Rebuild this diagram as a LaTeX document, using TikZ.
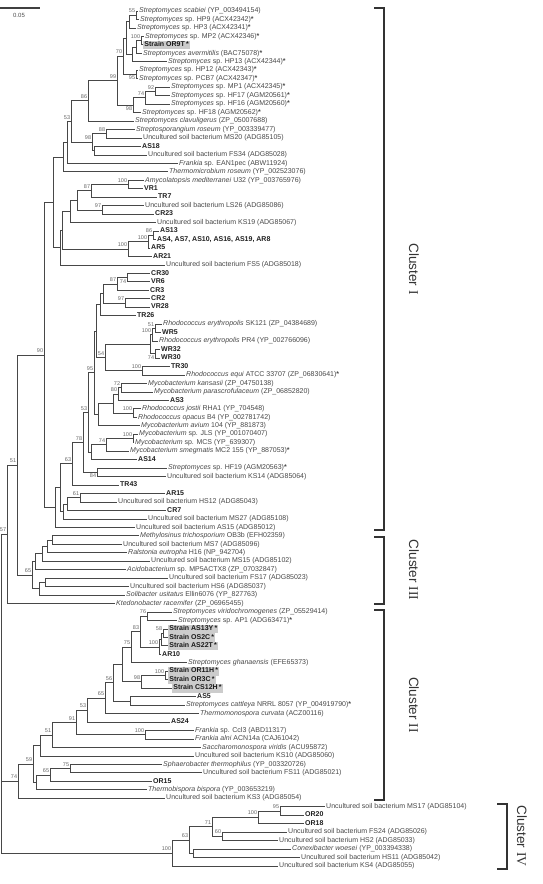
\documentclass[tikz,border=0pt]{standalone}
\usepackage{fontspec}
\setmainfont{Liberation Sans}
\newfontfamily\numfont{Liberation Serif}
\usetikzlibrary{calc}
\tikzset{
  br/.style={draw=black!72, line width=0.8pt},
  lf/.style={anchor=west, inner sep=1pt, text height=5pt, text depth=1.6pt, font=\fontsize{7}{8}\selectfont, text=black!72},
  bx/.style={fill=black!20, inner xsep=1.2pt, font=\fontsize{7}{8}\selectfont\bfseries, text=black!90},
  bd/.style={font=\fontsize{7}{8}\selectfont\bfseries, text=black!88},
  bsn/.style={inner sep=0pt, font=\fontsize{5.5}{6}\selectfont, text=black!60},
  ab/.style={anchor=base east, xshift=-0.7pt, yshift=2.4pt},
  be/.style={anchor=north east, xshift=-0.7pt, yshift=-1.4pt},
  brk/.style={draw=black!80, line width=1.6pt},
  cl/.style={rotate=-90, font=\fontsize{13.5}{15}\selectfont, text=black!80, inner sep=0pt}
}
\newcommand\strk{{\bfseries *}}
\newcommand\leaf[4][]{\node[lf,#1] (L#2) at (#3,{11+(#2-1)*8.465}) {#4};\coordinate (T#2) at (L#2.west);}
\newcommand\jn[4]{\path let \p1=($(#3)!0.5!(#4)$) in coordinate (#1) at (#2pt,\y1);
  \draw[br] (#1) |- (#3); \draw[br] (#1) |- (#4);}
\newcommand\bs[3][ab]{\node[bsn,#1] (#2-b) at (#2) {#3};}
\newcommand\clname[1]{Cluster\hspace{4pt}{\numfont #1}}
\begin{document}
\begin{tikzpicture}[x=1pt,y=-1pt]
\useasboundingbox (0,0) rectangle (542,884);
% scale bar
\coordinate (sb1) at (0,8); \coordinate (sb2) at (40,8);
\draw[line width=1.3pt, black!75] (sb1) -- (sb2);
\node[font=\fontsize{6}{7}\selectfont, text=black!70] (sbl) at (19,15) {0.05};
% leaves
\leaf{1}{138}{\textit{Streptomyces scabiei} (YP\_003494154)}
\leaf{2}{139}{\textit{Streptomyces} sp. HP9 (ACX42342)\strk}
\leaf{3}{136}{\textit{Streptomyces} sp. HP3 (ACX42341)\strk}
\leaf{4}{144}{\textit{Streptomyces} sp. MP2 (ACX42346)\strk}
\leaf[bx]{5}{143}{Strain OR9T\,*}
\leaf{6}{142}{\textit{Streptomyces avermitilis} (BAC75078)\strk}
\leaf{7}{167}{\textit{Streptomyces} sp. HP13 (ACX42344)\strk}
\leaf{8}{138}{\textit{Streptomyces} sp. HP12 (ACX42343)\strk}
\leaf{9}{138}{\textit{Streptomyces} sp. PCB7 (ACX42347)\strk}
\leaf{10}{170}{\textit{Streptomyces} sp. MP1 (ACX42345)\strk}
\leaf{11}{170}{\textit{Streptomyces} sp. HF17 (AGM20561)\strk}
\leaf{12}{170}{\textit{Streptomyces} sp. HF16 (AGM20560)\strk}
\leaf{13}{141}{\textit{Streptomyces} sp. HF18 (AGM20562)\strk}
\leaf{14}{134}{\textit{Streptomyces clavuligerus} (ZP\_05007688)}
\leaf{15}{135}{\textit{Streptosporangium roseum} (YP\_003339477)}
\leaf{16}{142}{Uncultured soil bacterium MS20 (ADG85105)}
\leaf[bd]{17}{141}{AS18}
\leaf{18}{147}{Uncultured soil bacterium FS34 (ADG85028)}
\leaf{19}{178}{\textit{Frankia} sp. EAN1pec (ABW11924)}
\leaf{20}{168}{\textit{Thermomicrobium roseum} (YP\_002523076)}
\leaf{21}{144}{\textit{Amycolatopsis mediterranei} U32 (YP\_003765976)}
\leaf[bd]{22}{143}{VR1}
\leaf[bd]{23}{157}{TR7}
\leaf{24}{144}{Uncultured soil bacterium LS26 (ADG85086)}
\leaf[bd]{25}{154}{CR23}
\leaf{26}{156}{Uncultured soil bacterium KS19 (ADG85067)}
\leaf[bd]{27}{159}{AS13}
\leaf[bd]{28}{156}{AS4, AS7, AS10, AS16, AS19, AR8}
\leaf[bd]{29}{150}{AR5}
\leaf[bd]{30}{152}{AR21}
\leaf{31}{165}{Uncultured soil bacterium FS5 (ADG85018)}
\leaf[bd]{32}{150}{CR30}
\leaf[bd]{33}{150}{VR6}
\leaf[bd]{34}{149}{CR3}
\leaf[bd]{35}{150}{CR2}
\leaf[bd]{36}{150}{VR28}
\leaf[bd]{37}{136}{TR26}
\leaf{38}{162}{\textit{Rhodococcus erythropolis} SK121 (ZP\_04384689)}
\leaf[bd]{39}{161}{WR5}
\leaf{40}{158}{\textit{Rhodococcus erythropolis} PR4 (YP\_002766096)}
\leaf[bd]{41}{160}{WR32}
\leaf[bd]{42}{160}{WR30}
\leaf[bd]{43}{170}{TR30}
\leaf{44}{185}{\textit{Rhodococcus equi} ATCC 33707 (ZP\_06830641)\strk}
\leaf{45}{147}{\textit{Mycobacterium kansasii} (ZP\_04750138)}
\leaf{46}{153}{\textit{Mycobacterium parascrofulaceum} (ZP\_06852820)}
\leaf[bd]{47}{169}{AS3}
\leaf{48}{141}{\textit{Rhodococcus jostii} RHA1 (YP\_704548)}
\leaf{49}{137}{\textit{Rhodococcus opacus} B4 (YP\_002781742)}
\leaf{50}{140}{\textit{Mycobacterium avium} 104 (YP\_881873)}
\leaf{51}{138}{\textit{Mycobacterium} sp. JLS (YP\_001070407)}
\leaf{52}{134}{\textit{Mycobacterium} sp. MCS (YP\_639307)}
\leaf{53}{129}{\textit{Mycobacterium smegmatis} MC2 155 (YP\_887053)\strk}
\leaf[bd]{54}{137}{AS14}
\leaf{55}{167}{\textit{Streptomyces} sp. HF19 (AGM20563)\strk}
\leaf{56}{166}{Uncultured soil bacterium KS14 (ADG85064)}
\leaf[bd]{57}{119}{TR43}
\leaf[bd]{58}{165}{AR15}
\leaf{59}{117}{Uncultured soil bacterium HS12 (ADG85043)}
\leaf[bd]{60}{166}{CR7}
\leaf{61}{147}{Uncultured soil bacterium MS27 (ADG85108)}
\leaf{62}{135}{Uncultured soil bacterium AS15 (ADG85012)}
\leaf{63}{139}{\textit{Methylosinus trichosporium} OB3b (EFH02359)}
\leaf{64}{122}{Uncultured soil bacterium MS7 (ADG85096)}
\leaf{65}{127}{\textit{Ralstonia eutropha} H16 (NP\_942704)}
\leaf{66}{150}{Uncultured soil bacterium MS15 (ADG85102)}
\leaf{67}{126}{\textit{Acidobacterium} sp. MP5ACTX8 (ZP\_07032847)}
\leaf{68}{168}{Uncultured soil bacterium FS17 (ADG85023)}
\leaf{69}{129}{Uncultured soil bacterium HS6 (ADG85037)}
\leaf{70}{125}{\textit{Solibacter usitatus} Ellin6076 (YP\_827763)}
\leaf{71}{115}{\textit{Ktedonobacter racemifer} (ZP\_06965455)}
\leaf{72}{172}{\textit{Streptomyces viridochromogenes} (ZP\_05529414)}
\leaf{73}{177}{\textit{Streptomyces} sp. AP1 (ADG63471)\strk}
\leaf[bx]{74}{168}{Strain AS13Y\,*}
\leaf[bx]{75}{168}{Strain OS2C\,*}
\leaf[bx]{76}{168}{Strain AS22T\,*}
\leaf[bd]{77}{161}{AR10}
\leaf{78}{187}{\textit{Streptomyces ghanaensis} (EFE65373)}
\leaf[bx]{79}{168}{Strain OR11H\,*}
\leaf[bx]{80}{168}{Strain OR3C\,*}
\leaf[bx]{81}{172}{Strain CS12H\,*}
\leaf[bd]{82}{196}{AS5}
\leaf{83}{185}{\textit{Streptomyces cattleya} NRRL 8057 (YP\_004919790)\strk}
\leaf{84}{199}{\textit{Thermomonospora curvata} (ACZ00116)}
\leaf[bd]{85}{170}{AS24}
\leaf{86}{194}{\textit{Frankia} sp. Ccl3 (ABD11317)}
\leaf{87}{194}{\textit{Frankia alni} ACN14a (CAJ61042)}
\leaf{88}{201}{\textit{Saccharomonospora viridis} (ACU95872)}
\leaf{89}{194}{Uncultured soil bacterium KS10 (ADG85060)}
\leaf{90}{162}{\textit{Sphaerobacter thermophilus} (YP\_003320726)}
\leaf{91}{202}{Uncultured soil bacterium FS11 (ADG85021)}
\leaf[bd]{92}{152}{OR15}
\leaf{93}{147}{\textit{Thermobispora bispora} (YP\_003653219)}
\leaf{94}{165}{Uncultured soil bacterium KS3 (ADG85054)}
\leaf{95}{325}{Uncultured soil bacterium MS17 (ADG85104)}
\leaf[bd]{96}{304}{OR20}
\leaf[bd]{97}{304}{OR18}
\leaf{98}{287}{Uncultured soil bacterium FS24 (ADG85026)}
\leaf{99}{278}{Uncultured soil bacterium HS2 (ADG85033)}
\leaf{100}{291}{\textit{Conexibacter woesei} (YP\_003394338)}
\leaf{101}{300}{Uncultured soil bacterium HS11 (ADG85042)}
\leaf{102}{278}{Uncultured soil bacterium KS4 (ADG85055)}
% Cluster I, Streptomyces part
\jn{A}{136}{T1}{T2}
\jn{B}{129}{A}{T3}
\jn{C}{141}{T4}{T5}
\jn{D}{136}{C}{T6}
\jn{E}{132}{D}{T7}
\jn{BE}{126}{B}{E}
\jn{S95}{136}{T8}{T9}
\jn{F}{123}{BE}{S95}
\jn{S92}{155}{T10}{T11}
\jn{S74}{145}{S92}{T12}
\jn{S98}{133}{S74}{T13}
\jn{S99}{117}{F}{S98}
\jn{S86}{88}{S99}{T14}
\jn{S88}{106}{T15}{T16}
\jn{AF}{94}{T17}{T18}
\jn{S98b}{92}{S88}{AF}
\jn{S53}{71}{S86}{S98b}
\jn{Fr}{67}{S53}{T19}
\jn{Th}{63}{Fr}{T20}
\jn{Am}{128}{T21}{T22}
\jn{A87}{91}{Am}{T23}
\jn{A97}{102}{T24}{T25}
\jn{P}{77}{A87}{A97}
\jn{Q}{70}{P}{T26}
\jn{ASn}{153}{T27}{T28}
\jn{B1}{148}{ASn}{T29}
\jn{B2}{128}{B1}{T30}
\jn{V}{62}{Q}{B2}
\jn{X61}{60}{V}{T31}
\jn{X53}{53}{Th}{X61}
% Cluster I, lower part
\jn{na}{127}{T32}{T33}
\jn{nb}{117}{na}{T34}
\jn{nc}{125}{T35}{T36}
\jn{nd}{103}{nb}{nc}
\jn{ne}{100}{nd}{T37}
\jn{r51}{155}{T38}{T39}
\jn{r100}{152}{r51}{T40}
\jn{r74}{155}{T41}{T42}
\jn{rh}{150}{r100}{r74}
\jn{t100}{142}{T43}{T44}
\jn{n54}{105}{rh}{t100}
\jn{nf}{96}{ne}{n54}
\jn{m72}{121}{T45}{T46}
\jn{m80}{118}{m72}{T47}
\jn{j100}{133}{T48}{T49}
\jn{mj}{113}{m80}{j100}
\jn{av}{98}{mj}{T50}
\jn{n95}{94}{nf}{av}
\jn{m100}{133}{T51}{T52}
\jn{m74}{106}{m100}{T53}
\jn{a14}{91}{m74}{T54}
\jn{m53}{88}{n95}{a14}
\jn{n84}{97}{T55}{T56}
\jn{n78}{83}{m53}{n84}
\jn{n63}{72}{n78}{T57}
\jn{n61}{80}{T58}{T59}
\jn{cr7}{67}{n61}{T60}
\jn{ms27}{63}{cr7}{T61}
\jn{np}{60}{n63}{ms27}
\jn{nq}{55}{np}{T62}
\jn{n90}{44}{X53}{nq}
% Cluster III
\jn{cA}{52}{T63}{T64}
\jn{cB}{47}{cA}{T65}
\jn{cC}{42}{cB}{T66}
\jn{cD}{35}{cC}{T67}
\jn{cE}{45}{T68}{T69}
\jn{cF}{39}{cE}{T70}
\jn{c3}{32}{cD}{cF}
\jn{n51}{17}{n90}{c3}
\jn{n57}{7}{n51}{T71}
% Cluster II
\jn{k76}{147}{T72}{T73}
\jn{k58}{163}{T74}{T75}
\jn{ks}{161}{k58}{T76}
\jn{k100}{159}{ks}{T77}
\jn{k83}{140}{k76}{k100}
\jn{k75}{131}{k83}{T78}
\jn{o100}{165}{T79}{T80}
\jn{o98}{141}{o100}{T81}
\jn{kQ}{122}{k75}{o98}
\jn{kAC}{130}{T82}{T83}
\jn{k56}{113}{kQ}{kAC}
\jn{k65}{105}{k56}{T84}
\jn{k53}{87}{k65}{T85}
\jn{fr100}{145}{T86}{T87}
\jn{k91}{76}{k53}{fr100}
\jn{k51}{52}{k91}{T88}
\jn{kK}{40}{k51}{T89}
\jn{s75}{70}{T90}{T91}
\jn{s65}{50}{s75}{T92}
\jn{sT}{36}{s65}{T93}
\jn{k59}{33}{kK}{sT}
\jn{k74}{18}{k59}{T94}
% Cluster IV
\jn{q95}{280}{T95}{T96}
\jn{q100}{258}{q95}{T97}
\jn{q60}{222}{T98}{T99}
\jn{q71}{212}{q100}{q60}
\jn{qCH}{193}{T100}{T101}
\jn{q63}{189}{q71}{qCH}
\jn{r4}{172}{q63}{T102}
% root
\jn{root}{1}{n57}{r4}
\draw[br] (root) |- (k74);
% bootstrap values
\bs{A}{55} \bs{C}{100} \bs{F}{70} \bs{S99}{99} \bs[be]{S95}{95} \bs{S74}{74}
\bs{S92}{92} \bs[be]{S98}{98} \bs{S86}{86} \bs{S53}{53} \bs{S88}{88} \bs{S98b}{98}
\bs{Am}{100} \bs{A87}{87} \bs{A97}{97} \bs{ASn}{86} \bs{B1}{100} \bs{B2}{100}
\bs{nb}{87} \bs[be]{na}{74} \bs{nc}{97} \bs{r51}{51} \bs{r100}{100} \bs[be]{r74}{74}
\bs{n54}{54} \bs{n95}{95} \bs{t100}{100} \bs{m72}{72} \bs{m80}{80} \bs{j100}{100}
\bs{m53}{53} \bs{n78}{78} \bs{n63}{63} \bs{m100}{100} \bs{m74}{74} \bs[be]{n84}{84}
\bs{n61}{61} \bs{n90}{90} \bs{n51}{51} \bs{n57}{57} \bs{c3}{65}
\bs{k76}{76} \bs{k83}{83} \bs{k58}{58} \bs{k100}{100} \bs{k75}{75} \bs{o100}{100}
\bs{o98}{98} \bs{k56}{56} \bs{k65}{65} \bs{k53}{53} \bs{k91}{91} \bs{fr100}{100}
\bs{k51}{51} \bs{k59}{59} \bs{s75}{75} \bs{s65}{65} \bs{k74}{74}
\bs{r4}{100} \bs{q63}{63} \bs{q71}{71} \bs{q100}{100} \bs{q95}{95} \bs{q60}{60}
% cluster brackets
\coordinate (c1a) at (384,8); \coordinate (c1b) at (384,530);
\draw[brk] ($(c1a)+(-10,0)$) -- (c1a) -- (c1b) -- ($(c1b)+(-10,0)$);
\node[cl] (c1l) at (414,269) {\clname{I}};
\coordinate (c3a) at (384,537); \coordinate (c3b) at (384,604);
\draw[brk] ($(c3a)+(-10,0)$) -- (c3a) -- (c3b) -- ($(c3b)+(-10,0)$);
\node[cl] (c3l) at (414,570) {\clname{III}};
\coordinate (c2a) at (384,610); \coordinate (c2b) at (384,800);
\draw[brk] ($(c2a)+(-10,0)$) -- (c2a) -- (c2b) -- ($(c2b)+(-10,0)$);
\node[cl] (c2l) at (414,705) {\clname{II}};
\coordinate (c4a) at (507,804); \coordinate (c4b) at (507,869);
\draw[brk] ($(c4a)+(-10,0)$) -- (c4a) -- (c4b) -- ($(c4b)+(-10,0)$);
\node[cl] (c4l) at (522,836) {\clname{IV}};
\end{tikzpicture}
\end{document}
